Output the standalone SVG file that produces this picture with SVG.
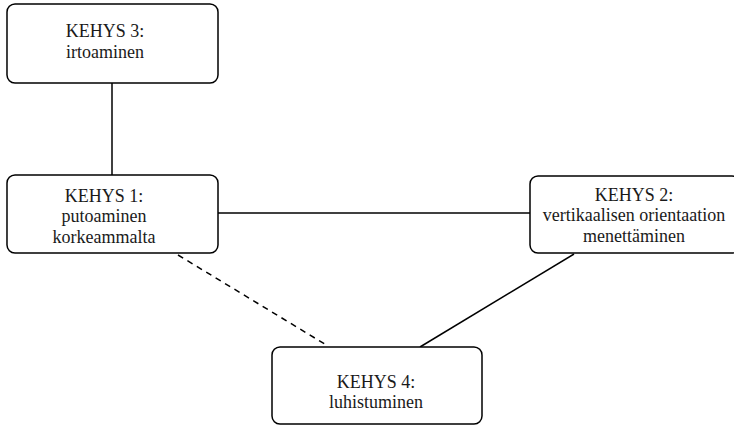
<svg xmlns="http://www.w3.org/2000/svg" width="734" height="426" viewBox="0 0 734 426">
<style>
.box{fill:#fff;stroke:#000;stroke-width:1.5}
.t{font-family:"Liberation Serif","Times New Roman",serif;font-size:18px;fill:#1a1a1a;text-anchor:middle}
.c{stroke:#000;stroke-width:1.5;fill:none}
.d{stroke-dasharray:6,5}
</style>
<rect width="734" height="426" fill="#fff"/>
<g id="connectors">
<line class="c" x1="112" y1="83" x2="112" y2="175"/>
<line class="c" x1="218" y1="213" x2="530" y2="213"/>
<line class="c" x1="574" y1="254" x2="420" y2="347"/>
<line class="c d" x1="178" y1="255" x2="328" y2="346"/>
</g>
<g id="kehys3">
<rect class="box" x="7" y="4" width="211" height="79" rx="8"/>
<text class="t" x="105" y="37">KEHYS 3:</text>
<text class="t" x="105" y="58">irtoaminen</text>
</g>
<g id="kehys1">
<rect class="box" x="7" y="175" width="211" height="78" rx="8"/>
<text class="t" x="104" y="202">KEHYS 1:</text>
<text class="t" x="104" y="222">putoaminen</text>
<text class="t" x="104" y="243">korkeammalta</text>
</g>
<g id="kehys2">
<rect class="box" x="530" y="176" width="210" height="77" rx="8"/>
<text class="t" x="634" y="201">KEHYS 2:</text>
<text class="t" x="634" y="221">vertikaalisen orientaation</text>
<text class="t" x="634" y="242">menettäminen</text>
</g>
<g id="kehys4">
<rect class="box" x="272" y="347" width="210" height="77" rx="8"/>
<text class="t" x="376" y="388">KEHYS 4:</text>
<text class="t" x="376" y="408">luhistuminen</text>
</g>
</svg>
